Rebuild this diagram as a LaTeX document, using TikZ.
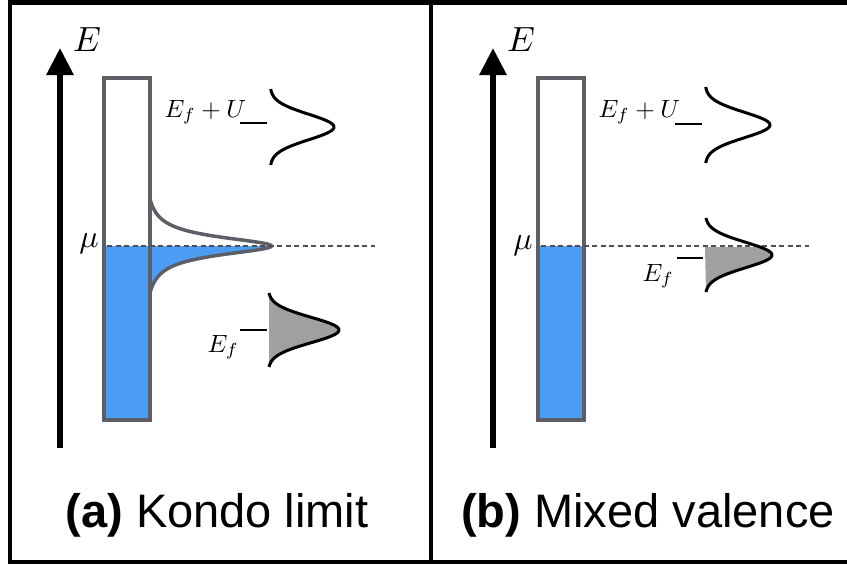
\documentclass[tikz,border=0pt]{standalone}
\usepackage{fontspec}
\setsansfont{Liberation Sans}
\usetikzlibrary{arrows.meta}
\definecolor{fillblue}{RGB}{76,158,245}
\definecolor{bandgray}{RGB}{92,96,102}
\definecolor{dashgray}{RGB}{80,80,80}
\definecolor{peakgray}{RGB}{160,160,160}
\tikzset{
  lab/.style={font=\fontsize{10}{10}\selectfont, inner sep=0pt, scale=2.5},
  mulab/.style={font=\fontsize{10}{10}\selectfont, inner sep=0pt, scale=3.2},
  biglab/.style={font=\fontsize{10}{10}\selectfont, inner sep=0pt, scale=3.5},
  caption/.style={font=\sffamily\fontsize{47}{50}\selectfont, inner sep=0pt, anchor=base},
  frameline/.style={line width=4.5pt, black},
  axisarrow/.style={line width=6pt, -{Triangle[length=27pt,width=26pt]}},
  bandbox/.style={draw=bandgray, line width=4.5pt},
  peakline/.style={black, line width=3pt},
  kondoline/.style={bandgray, line width=3.5pt},
  levelline/.style={black, line width=2.5pt},
  muline/.style={dashgray, line width=2.3pt, dash pattern=on 5pt off 3.5pt},
}
\begin{document}
\begin{tikzpicture}[x=1pt,y=-1pt]
\useasboundingbox (0,0) rectangle (847,565);
% frame
\draw[frameline] (852,2.5) -- (10,2.5) -- (10,562) -- (852,562);
\draw[line width=4pt] (431,2.5) -- (431,562);

% ---------- panel (a) ----------
\begin{scope}
\fill[fillblue] (104,246) rectangle (150,420);
\fill[fillblue] plot[domain=0:47, samples=80, variable=\t] ({150+128*(1/(1+\t*\t/121)-0.052)}, {246+\t}) -- (150,246) -- cycle;
\draw[bandbox] (104,78) rectangle (150,420);
\draw[kondoline] plot[domain=-47:47, samples=161, variable=\t] ({150+128*(1/(1+\t*\t/121)-0.052)}, {246+\t});
\draw[muline] (107,246) -- (375,246);
\draw[axisarrow] (60,448) -- (60,48);
\node[biglab] (Ea) at (87,40) {$E$};
\node[mulab] (mua) at (89,244) {$\mu$};
% E_f + U
\node[lab, anchor=base west] (efua) at (164,117) {$E_f+U$};
\draw[levelline] (240,123) -- (267,123);
\draw[peakline] plot[domain=-38:38, samples=80, variable=\t] ({270+64*exp(-(\t*\t)/324)}, {127+\t});
% E_f
\node[lab, anchor=base west] (efa) at (207,352) {$E_f$};
\draw[levelline] (240,330) -- (267,330);
\fill[peakgray] plot[domain=-37:37, samples=80, variable=\t] ({268+71*exp(-(\t*\t)/324)}, {330+\t}) -- cycle;
\draw[peakline] plot[domain=-37:37, samples=80, variable=\t] ({268+71*exp(-(\t*\t)/324)}, {330+\t});
\node[caption] (capa) at (217,527) {\textbf{(a)} Kondo limit};
\end{scope}

% ---------- panel (b) ----------
\begin{scope}[xshift=434pt]
\fill[fillblue] (104,246) rectangle (150,420);
\draw[bandbox] (104,78) rectangle (150,420);
\draw[axisarrow] (59,448) -- (59,48);
\node[biglab] (Eb) at (87,40) {$E$};
\node[mulab] (mub) at (89,246) {$\mu$};
% E_f + U
\node[lab, anchor=base west] (efub) at (164,117) {$E_f+U$};
\draw[levelline] (241,124) -- (268,124);
\draw[peakline] plot[domain=-38:38, samples=80, variable=\t] ({271+65*exp(-(\t*\t)/324)}, {125+\t});
% E_f (mixed valence)
\fill[peakgray] plot[domain=-8:37, samples=60, variable=\t] ({271+67*exp(-(\t*\t)/324)}, {255+\t}) -- (271,247) -- cycle;
\draw[muline] (107,246) -- (375,246);
\draw[peakline] plot[domain=-37:37, samples=80, variable=\t] ({271+67*exp(-(\t*\t)/324)}, {255+\t});
\node[lab, anchor=base west] (efb) at (208,281) {$E_f$};
\draw[levelline] (243,258) -- (269,258);
\node[caption] (capb) at (214,527) {\textbf{(b)} Mixed valence};
\end{scope}
\end{tikzpicture}
\end{document}
